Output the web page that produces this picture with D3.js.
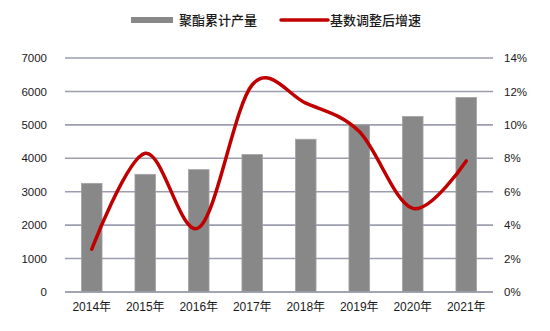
<!DOCTYPE html>
<html>
<head>
<meta charset="utf-8">
<script src="https://cdn.jsdelivr.net/npm/d3@7"></script>
<style>
  html, body { margin: 0; padding: 0; background: #fff; }
  svg { display: block; }
  text { font-family: "Liberation Sans", Arial, "Noto Sans CJK SC", sans-serif; fill: #1a1a1a; }
</style>
</head>
<body>
<svg id="chart" width="550" height="331"></svg>
<script>
const categories = ["2014年", "2015年", "2016年", "2017年", "2018年", "2019年", "2020年", "2021年"];
const polyesterOutput = [3250, 3520, 3660, 4110, 4570, 5000, 5250, 5820];
const adjustedGrowth = [2.56, 8.3, 3.85, 12.4, 11.3, 9.6, 5.0, 7.84];
const leftTicks = [0, 1000, 2000, 3000, 4000, 5000, 6000, 7000];
const rightTicks = [0, 2, 4, 6, 8, 10, 12, 14];
const seriesNames = ["聚酯累计产量", "基数调整后增速"];

const svg = d3.select("#chart");
const pL = 65, pR = 493, pT = 58, pB = 292;

const x = d3.scaleBand().domain(categories).range([pL, pR]).paddingInner(0.615).paddingOuter(0.3075);
const yL = d3.scaleLinear().domain([0, 7000]).range([pB, pT]);
const yR = d3.scaleLinear().domain([0, 14]).range([pB, pT]);

// gridlines
svg.append("g").selectAll("line").data(leftTicks).join("line")
  .attr("x1", pL).attr("x2", pR)
  .attr("y1", d => yL(d)).attr("y2", d => yL(d))
  .attr("stroke", "#9c9eb0").attr("stroke-width", 1.6);

// left axis labels
const axL = d3.axisLeft(yL).tickValues(leftTicks).tickSize(0).tickPadding(0).tickFormat(d3.format("d"));
const gL = svg.append("g").attr("transform", `translate(${pL - 18},0)`).call(axL);
gL.select(".domain").remove();
gL.selectAll("text").attr("font-size", "11.5px").attr("fill", "#1a1a1a").attr("font-family", "'Liberation Sans', Arial, sans-serif");

// right axis labels
const axR = d3.axisRight(yR).tickValues(rightTicks).tickSize(0).tickPadding(0).tickFormat(d => d + "%");
const gR = svg.append("g").attr("transform", `translate(${pR + 11},0)`).call(axR);
gR.select(".domain").remove();
gR.selectAll("text").attr("font-size", "11.5px").attr("fill", "#1a1a1a").attr("font-family", "'Liberation Sans', Arial, sans-serif");

// x axis labels
const axX = d3.axisBottom(x).tickSize(0).tickPadding(10);
const gX = svg.append("g").attr("transform", `translate(0,${pB})`).call(axX);
gX.select(".domain").remove();
gX.selectAll("text").attr("font-size", "12px").attr("fill", "#1a1a1a").attr("font-family", "'Liberation Sans', Arial, 'Noto Sans CJK SC', sans-serif");

// bars
svg.append("g").selectAll("rect").data(polyesterOutput).join("rect")
  .attr("x", (d, i) => x(categories[i]))
  .attr("width", x.bandwidth())
  .attr("y", d => yL(d))
  .attr("height", d => pB - yL(d))
  .attr("fill", "#888888")
  .attr("stroke", "#a3a3a3").attr("stroke-width", 0.8);

// redraw baseline over bars
svg.append("line").attr("x1", pL).attr("x2", pR).attr("y1", pB).attr("y2", pB)
  .attr("stroke", "#9c9eb0").attr("stroke-width", 1.6);

// line
const line = d3.line()
  .x((d, i) => x(categories[i]) + x.bandwidth() / 2)
  .y(d => yR(d))
  .curve(d3.curveCatmullRom.alpha(0));
svg.append("path").datum(adjustedGrowth)
  .attr("d", line).attr("fill", "none")
  .attr("stroke", "#c00000").attr("stroke-width", 3.5)
  .attr("stroke-linecap", "round").attr("stroke-linejoin", "round");

// legend
const lg = svg.append("g");
lg.append("rect").attr("x", 131).attr("y", 17).attr("width", 42).attr("height", 6).attr("fill", "#888888");
lg.append("text").attr("x", 179).attr("y", 20).attr("dy", "0.35em").attr("font-size", "13px")
  .attr("font-family", "'Noto Sans CJK SC', sans-serif").attr("font-weight", 500).text(seriesNames[0]);
lg.append("line").attr("x1", 281).attr("x2", 328).attr("y1", 20).attr("y2", 20)
  .attr("stroke", "#c00000").attr("stroke-width", 3.5).attr("stroke-linecap", "round");
lg.append("text").attr("x", 330).attr("y", 20).attr("dy", "0.35em").attr("font-size", "13px")
  .attr("font-family", "'Noto Sans CJK SC', sans-serif").attr("font-weight", 500).text(seriesNames[1]);
</script>
</body>
</html>
